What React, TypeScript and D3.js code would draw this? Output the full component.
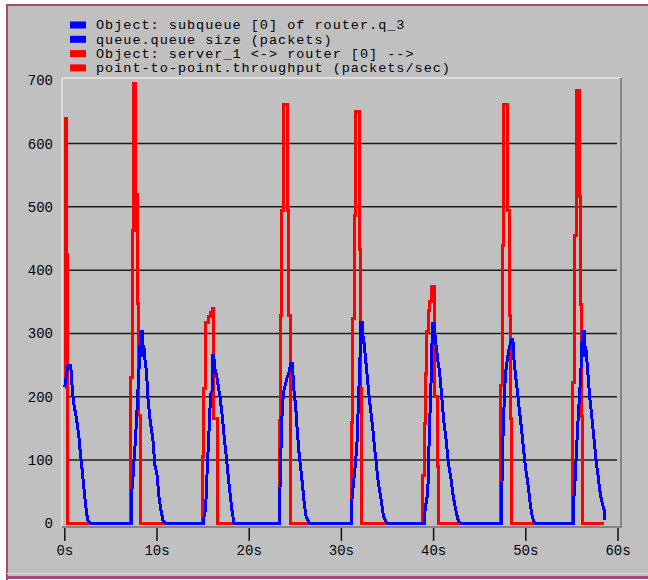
import React, { useEffect, useRef } from 'react';
import * as d3 from 'd3';

const timeTicks = [0, 10, 20, 30, 40, 50, 60];
const valueTicks = [0, 100, 200, 300, 400, 500, 600, 700];
const gridValues = [100, 200, 300, 400, 500, 600];

const legendLabels = [
  'Object: subqueue [0] of router.q_3',
  'queue.queue size (packets)',
  'Object: server_1 <-> router [0] -->',
  'point-to-point.throughput (packets/sec)',
];
const legendColors = ['#0000ff', '#0000ff', '#ff0000', '#ff0000'];

// point-to-point throughput (packets/sec), [time s, value], held until the next sample
const throughput: [number, number][] = [
  [0, 215], [0.03, 640], [0.16, 425], [0.33, 0],
  [7.12, 230], [7.34, 462], [7.47, 695], [7.62, 462], [7.72, 520], [7.84, 347], [8.04, 170], [8.2, 0],
  [14.9, 105], [15.08, 213], [15.26, 318], [15.55, 326], [15.8, 333], [16.0, 340], [16.15, 166], [16.55, 0],
  [23.3, 163], [23.42, 329], [23.55, 495], [23.7, 661], [24.12, 495], [24.3, 329], [24.5, 0],
  [31.1, 160], [31.22, 324], [31.38, 487], [31.56, 650], [31.93, 432], [32.05, 213], [32.2, 0],
  [38.85, 76], [39.02, 158], [39.15, 237], [39.27, 303], [39.4, 337], [39.6, 350], [39.75, 374],
  [40.15, 200], [40.37, 89], [40.55, 0],
  [47.3, 218], [47.5, 439], [47.62, 661], [48.05, 495], [48.2, 329], [48.33, 166], [48.45, 0],
  [55.1, 223], [55.28, 455], [55.45, 684], [55.82, 516], [55.94, 346], [56.08, 168], [56.2, 0],
  [58.5, 0],
];

// subqueue [0] queue size (packets), [time s, value]
const queueSize: [number, number][] = [
  [0, 215], [0.08, 225], [0.2, 235], [0.35, 250], [0.65, 250], [0.72, 229], [0.96, 190], [1.25, 167],
  [1.5, 141], [1.68, 112], [1.87, 86], [2.04, 60], [2.26, 28], [2.48, 5], [2.85, 0],
  [7.19, 0], [7.19, 37], [7.41, 76], [7.59, 116], [7.77, 160], [7.92, 207], [8.1, 258], [8.21, 303],
  [8.4, 303], [8.46, 263], [8.57, 281], [8.68, 260], [8.86, 240], [9.04, 193], [9.29, 159], [9.55, 133],
  [9.76, 93], [10.02, 75], [10.2, 43], [10.45, 19], [10.67, 3], [10.92, 0],
  [15.02, 0], [15.1, 10], [15.27, 23], [15.45, 86], [15.63, 143], [15.82, 205], [16.0, 210], [16.07, 265],
  [16.15, 265], [16.28, 245], [16.5, 230], [16.83, 200], [17.09, 168], [17.3, 135], [17.55, 100],
  [17.8, 63], [18.0, 37], [18.17, 16], [18.35, 0],
  [23.32, 0], [23.32, 45], [23.53, 163], [23.71, 207], [23.9, 218], [24.08, 229], [24.33, 240],
  [24.51, 252], [24.7, 252], [24.8, 217], [25.05, 183], [25.24, 141], [25.42, 109], [25.6, 86],
  [25.78, 60], [25.96, 33], [26.14, 12], [26.5, 0],
  [31.11, 0], [31.14, 37], [31.29, 60], [31.5, 91], [31.68, 123], [31.83, 183], [32.01, 258], [32.12, 318],
  [32.25, 318], [32.3, 284], [32.4, 295], [32.48, 281], [32.74, 242], [32.92, 213], [33.13, 184],
  [33.39, 152], [33.57, 123], [33.75, 100], [33.93, 73], [34.11, 55], [34.37, 31], [34.58, 10], [34.95, 0],
  [39.0, 0], [39.08, 23], [39.37, 48], [39.55, 147], [39.73, 226], [39.88, 316], [40.1, 316], [40.16, 295],
  [40.27, 281], [40.45, 258], [40.63, 242], [40.82, 211], [41.0, 179], [41.17, 153], [41.36, 132],
  [41.54, 105], [41.72, 84], [41.9, 69], [42.08, 48], [42.26, 32], [42.45, 18], [42.63, 6], [42.9, 0],
  [47.34, 0], [47.41, 60], [47.55, 152], [47.7, 207], [47.8, 237], [47.99, 258], [48.17, 274], [48.42, 290],
  [48.6, 290], [48.72, 258], [48.9, 232], [49.08, 210], [49.26, 184], [49.43, 163], [49.62, 137],
  [49.8, 111], [49.98, 86], [50.16, 70], [50.35, 48], [50.52, 26], [50.71, 10], [50.96, 0],
  [55.13, 0], [55.2, 37], [55.38, 76], [55.49, 113], [55.67, 163], [55.85, 207], [56.03, 258], [56.14, 303],
  [56.35, 303], [56.39, 263], [56.5, 280], [56.58, 265], [56.76, 232], [56.93, 200], [57.12, 174],
  [57.3, 147], [57.48, 121], [57.66, 95], [57.85, 74], [58.02, 53], [58.2, 37], [58.39, 26], [58.52, 20],
  [58.55, 5],
];

const App = () => {
  const svgRef = useRef<SVGSVGElement>(null);

  useEffect(() => {
    const svg = d3.select(svgRef.current);
    svg.selectAll('*').remove();

    const box = { left: 62, top: 78, right: 621, bottom: 527 };
    const x = d3.scaleLinear().domain([0, 60]).range([64.8, 618]);
    const y = d3.scaleLinear().domain([0, 700]).range([523.3, 80.3]);
    const mono = '"Liberation Mono", "DejaVu Sans Mono", monospace';

    // window frame
    svg.append('rect').attr('x', 0).attr('y', 0).attr('width', 648).attr('height', 580).attr('fill', '#ffffff');
    svg.append('rect').attr('x', 7).attr('y', 5).attr('width', 641).attr('height', 572).attr('fill', '#c0c0c0');
    svg.append('line').attr('x1', 7).attr('x2', 648).attr('y1', 5).attr('y2', 5)
      .attr('stroke', '#a04c74').attr('stroke-width', 2);
    svg.append('line').attr('x1', 7).attr('x2', 7).attr('y1', 4).attr('y2', 580)
      .attr('stroke', '#a04c74').attr('stroke-width', 2);
    svg.append('line').attr('x1', 7).attr('x2', 648).attr('y1', 573.5).attr('y2', 573.5)
      .attr('stroke', '#d4d4d4').attr('stroke-width', 1.5);
    svg.append('line').attr('x1', 7).attr('x2', 648).attr('y1', 577.5).attr('y2', 577.5)
      .attr('stroke', '#a04c74').attr('stroke-width', 3);

    // legend
    const legend = svg.append('g');
    legendLabels.forEach((label, i) => {
      const cy = 25 + i * 14.3;
      legend.append('rect').attr('x', 70).attr('y', cy - 3.5).attr('width', 16).attr('height', 7)
        .attr('fill', legendColors[i]);
      legend.append('text').attr('x', 96).attr('y', cy + 4.3)
        .style('font-family', mono).style('font-size', '13.5px').style('letter-spacing', '1px')
        .attr('fill', '#000')
        .text(label);
    });

    // plot box, light top/left and dark bottom/right
    svg.append('line').attr('x1', box.left).attr('x2', box.right).attr('y1', box.top).attr('y2', box.top)
      .attr('stroke', '#dcdcdc').attr('stroke-width', 2);
    svg.append('line').attr('x1', box.left).attr('x2', box.left).attr('y1', box.top).attr('y2', box.bottom)
      .attr('stroke', '#dcdcdc').attr('stroke-width', 2);
    svg.append('line').attr('x1', box.right).attr('x2', box.right).attr('y1', box.top).attr('y2', box.bottom + 1)
      .attr('stroke', '#858585').attr('stroke-width', 2);
    svg.append('line').attr('x1', box.left).attr('x2', box.right).attr('y1', box.bottom).attr('y2', box.bottom)
      .attr('stroke', '#858585').attr('stroke-width', 2);

    svg.selectAll('.grid-line')
      .data(gridValues)
      .enter()
      .append('line')
      .attr('class', 'grid-line')
      .attr('x1', 66.5)
      .attr('x2', 617)
      .attr('y1', (d) => y(d))
      .attr('y2', (d) => y(d))
      .attr('stroke', '#1c1c1c')
      .attr('stroke-width', 1.5);

    svg.selectAll('.y-label')
      .data(valueTicks)
      .enter()
      .append('text')
      .attr('class', 'y-label')
      .attr('x', 53)
      .attr('y', (d) => y(d) + 5)
      .attr('text-anchor', 'end')
      .style('font-family', mono)
      .style('font-size', '14px')
      .attr('fill', '#000')
      .text((d) => d);

    svg.selectAll('.x-tick')
      .data(timeTicks)
      .enter()
      .append('line')
      .attr('class', 'x-tick')
      .attr('x1', (d) => x(d))
      .attr('x2', (d) => x(d))
      .attr('y1', 528)
      .attr('y2', 541)
      .attr('stroke', '#111')
      .attr('stroke-width', 1.5);

    svg.selectAll('.x-label')
      .data(timeTicks)
      .enter()
      .append('text')
      .attr('class', 'x-label')
      .attr('x', (d) => x(d))
      .attr('y', 555)
      .attr('text-anchor', 'middle')
      .style('font-family', mono)
      .style('font-size', '14px')
      .attr('fill', '#000')
      .text((d) => `${d}s`);

    const throughputLine = d3.line<[number, number]>()
      .x((d) => x(d[0]))
      .y((d) => y(d[1]))
      .curve(d3.curveStepAfter);

    const queueLine = d3.line<[number, number]>()
      .x((d) => x(d[0]))
      .y((d) => y(d[1]));

    svg.append('path')
      .attr('d', throughputLine(throughput))
      .attr('fill', 'none')
      .attr('stroke', '#ff0000')
      .attr('stroke-width', 3)
      .attr('shape-rendering', 'crispEdges');

    svg.append('path')
      .attr('d', queueLine(queueSize))
      .attr('fill', 'none')
      .attr('stroke', '#0000ff')
      .attr('stroke-width', 3)
      .attr('stroke-linejoin', 'miter')
      .attr('shape-rendering', 'crispEdges');
  }, []);

  return (
    <svg
      ref={svgRef}
      width={648}
      height={580}
      style={{ position: 'absolute', left: 0, top: 0, display: 'block' }}
    />
  );
};

export default App;
